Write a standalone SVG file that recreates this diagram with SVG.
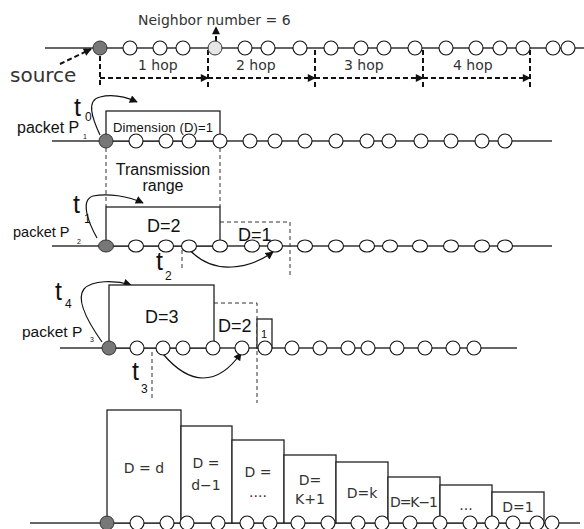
<svg xmlns="http://www.w3.org/2000/svg" width="584" height="529" viewBox="0 0 584 529">
<style>
.ln{stroke:#333;stroke-width:1.5;fill:none}
.nd{fill:#fff;stroke:#111;stroke-width:1.1}
.src{fill:#777;stroke:#333;stroke-width:1}
.lt{fill:#e6e6e6;stroke:#333;stroke-width:1}
.box{fill:#fff;stroke:#222;stroke-width:1.3}
.dsh{stroke:#333;stroke-width:1;stroke-dasharray:4 3;fill:none}
.dsh2{stroke:#111;stroke-width:2;stroke-dasharray:5 3;fill:none}
.cv{stroke:#111;stroke-width:1.2;fill:none}
text{font-family:"Liberation Sans",Arial,sans-serif;fill:#111}
.g{font-family:"DejaVu Sans","Liberation Sans",sans-serif;fill:#333}
</style>
<defs>
<marker id="ah" viewBox="0 0 10 10" refX="9" refY="5" markerWidth="9" markerHeight="8" markerUnits="userSpaceOnUse" orient="auto"><path d="M0,0 L10,5 L0,10 z" fill="#111"/></marker>
</defs>
<rect width="584" height="529" fill="#fff"/>

<g id="connectors">
<line class="ln" x1="45" y1="48" x2="584" y2="48"/>
<line class="ln" x1="52" y1="141" x2="552" y2="141"/>
<line class="ln" x1="52" y1="246" x2="552" y2="246"/>
<line class="ln" x1="60" y1="348" x2="517" y2="348"/>
<line class="ln" x1="30" y1="523" x2="580" y2="523"/>
<path class="dsh2" d="M60,64 L91,49" marker-end="url(#ah)"/>
<path class="dsh2" d="M216,41 L216,27" marker-end="url(#ah)"/>
<path class="dsh2" d="M100,56 V87 M208,50 V87 M315,50 V87 M423,50 V87 M530,50 V87"/>
<path class="dsh2" d="M100,78 H208" marker-end="url(#ah)"/>
<path class="dsh2" d="M208,78 H315" marker-end="url(#ah)"/>
<path class="dsh2" d="M315,78 H423" marker-end="url(#ah)"/>
<path class="dsh2" d="M423,78 H530" marker-end="url(#ah)"/>
<path class="dsh" d="M106,148 V207 M220,148 V207"/>
<path class="dsh" d="M220,222 H290 V278 M182,250 V270"/>
<path class="dsh" d="M214,303 H257 V403 M152,352 V400"/>
<path class="cv" d="M100,135 C92,118 86,100 100,97 C112,94 126,97 137,102" marker-end="url(#ah)"/>
<path class="cv" d="M97,238 C88,222 80,200 93,196 C108,193 128,196 143,203" marker-end="url(#ah)"/>
<path class="cv" d="M188,248 C200,262 215,268 232,267 C248,266 262,260 273,252" marker-end="url(#ah)"/>
<path class="cv" d="M102,342 C90,325 75,300 84,289 C92,280 115,280 131,285" marker-end="url(#ah)"/>
<path class="cv" d="M163,354 C175,368 188,378 203,378 C220,378 232,366 241,353" marker-end="url(#ah)"/>
</g>

<g id="boxes">
<g id="boxP1"><rect class="box" x="106" y="111" width="114" height="30"/></g>
<g id="boxP2"><rect class="box" x="106" y="207" width="114" height="39"/></g>
<g id="boxP3"><rect class="box" x="109" y="285" width="105" height="63"/>
<rect class="box" x="257" y="319" width="15" height="29"/></g>
<g id="boxD"><rect class="box" x="107" y="410" width="74" height="113"/></g>
<g id="boxD1"><rect class="box" x="181" y="426" width="51" height="97"/></g>
<g id="boxDd"><rect class="box" x="232" y="440" width="52" height="83"/></g>
<g id="boxK1"><rect class="box" x="284" y="455" width="52" height="68"/></g>
<g id="boxK"><rect class="box" x="336" y="462" width="52" height="61"/></g>
<g id="boxKm1"><rect class="box" x="388" y="477" width="52" height="46"/></g>
<g id="boxDots"><rect class="box" x="440" y="485" width="52" height="38"/></g>
<g id="boxOne"><rect class="box" x="492" y="492" width="52" height="31"/></g>
</g>

<g id="row0">
<g id="r0n0"><circle class="src" cx="100" cy="48" r="7"/></g>
<g id="r0n1"><circle class="nd" cx="130" cy="48" r="7"/></g>
<g id="r0n2"><circle class="nd" cx="160" cy="48" r="7"/></g>
<g id="r0n3"><circle class="nd" cx="183" cy="48" r="7"/></g>
<g id="r0n4"><circle class="lt" cx="215" cy="48" r="7"/></g>
<g id="r0n5"><circle class="nd" cx="245" cy="48" r="7"/></g>
<g id="r0n6"><circle class="nd" cx="268" cy="48" r="7"/></g>
<g id="r0n7"><circle class="nd" cx="300" cy="48" r="7"/></g>
<g id="r0n8"><circle class="nd" cx="331" cy="48" r="7"/></g>
<g id="r0n9"><circle class="nd" cx="361" cy="48" r="7"/></g>
<g id="r0n10"><circle class="nd" cx="384" cy="48" r="7"/></g>
<g id="r0n11"><circle class="nd" cx="415" cy="48" r="7"/></g>
<g id="r0n12"><circle class="nd" cx="446" cy="48" r="7"/></g>
<g id="r0n13"><circle class="nd" cx="476" cy="48" r="7"/></g>
<g id="r0n14"><circle class="nd" cx="500" cy="48" r="7"/></g>
<g id="r0n15"><circle class="nd" cx="523" cy="48" r="7"/></g>
<g id="r0n16"><circle class="nd" cx="553" cy="48" r="7"/></g>
<g id="r0n17"><circle class="nd" cx="568" cy="48" r="7"/></g>
</g>

<g id="row1">
<g id="r1n0"><circle class="src" cx="106" cy="141" r="7"/></g>
<g id="r1n1"><circle class="nd" cx="136" cy="141" r="7"/></g>
<g id="r1n2"><circle class="nd" cx="166" cy="141" r="7"/></g>
<g id="r1n3"><circle class="nd" cx="189" cy="141" r="7"/></g>
<g id="r1n4"><circle class="nd" cx="220" cy="141" r="7"/></g>
<g id="r1n5"><circle class="nd" cx="250" cy="141" r="7"/></g>
<g id="r1n6"><circle class="nd" cx="275" cy="141" r="7"/></g>
<g id="r1n7"><circle class="nd" cx="305" cy="141" r="7"/></g>
<g id="r1n8"><circle class="nd" cx="336" cy="141" r="7"/></g>
<g id="r1n9"><circle class="nd" cx="367" cy="141" r="7"/></g>
<g id="r1n10"><circle class="nd" cx="389" cy="141" r="7"/></g>
<g id="r1n11"><circle class="nd" cx="421" cy="141" r="7"/></g>
<g id="r1n12"><circle class="nd" cx="451" cy="141" r="7"/></g>
<g id="r1n13"><circle class="nd" cx="482" cy="141" r="7"/></g>
<g id="r1n14"><circle class="nd" cx="505" cy="141" r="7"/></g>
</g>

<g id="row2">
<g id="r2n0"><ellipse class="src" cx="106" cy="246" rx="7.5" ry="6"/></g>
<g id="r2n1"><ellipse class="nd" cx="136" cy="246" rx="7.5" ry="6"/></g>
<g id="r2n2"><ellipse class="nd" cx="166" cy="246" rx="7.5" ry="6"/></g>
<g id="r2n3"><ellipse class="nd" cx="189" cy="246" rx="7.5" ry="6"/></g>
<g id="r2n4"><ellipse class="nd" cx="220" cy="246" rx="7.5" ry="6"/></g>
<g id="r2n5"><ellipse class="nd" cx="252" cy="246" rx="7.5" ry="6"/></g>
<g id="r2n6"><ellipse class="nd" cx="275" cy="246" rx="7.5" ry="6"/></g>
<g id="r2n7"><ellipse class="nd" cx="305" cy="246" rx="7.5" ry="6"/></g>
<g id="r2n8"><ellipse class="nd" cx="336" cy="246" rx="7.5" ry="6"/></g>
<g id="r2n9"><ellipse class="nd" cx="367" cy="246" rx="7.5" ry="6"/></g>
<g id="r2n10"><ellipse class="nd" cx="390" cy="246" rx="7.5" ry="6"/></g>
<g id="r2n11"><ellipse class="nd" cx="420" cy="246" rx="7.5" ry="6"/></g>
<g id="r2n12"><ellipse class="nd" cx="451" cy="246" rx="7.5" ry="6"/></g>
<g id="r2n13"><ellipse class="nd" cx="482" cy="246" rx="7.5" ry="6"/></g>
<g id="r2n14"><ellipse class="nd" cx="505" cy="246" rx="7.5" ry="6"/></g>
</g>

<g id="row3">
<g id="r3n0"><circle class="src" cx="109" cy="348" r="7"/></g>
<g id="r3n1"><circle class="nd" cx="137" cy="348" r="7"/></g>
<g id="r3n2"><circle class="nd" cx="163" cy="348" r="7"/></g>
<g id="r3n3"><circle class="nd" cx="183" cy="348" r="7"/></g>
<g id="r3n4"><circle class="nd" cx="213" cy="348" r="7"/></g>
<g id="r3n5"><circle class="nd" cx="242" cy="348" r="7"/></g>
<g id="r3n6"><circle class="nd" cx="265" cy="348" r="7"/></g>
<g id="r3n7"><circle class="nd" cx="292" cy="348" r="7"/></g>
<g id="r3n8"><circle class="nd" cx="320" cy="348" r="7"/></g>
<g id="r3n9"><circle class="nd" cx="348" cy="348" r="7"/></g>
<g id="r3n10"><circle class="nd" cx="368" cy="348" r="7"/></g>
<g id="r3n11"><circle class="nd" cx="397" cy="348" r="7"/></g>
<g id="r3n12"><circle class="nd" cx="425" cy="348" r="7"/></g>
<g id="r3n13"><circle class="nd" cx="453" cy="348" r="7"/></g>
<g id="r3n14"><circle class="nd" cx="474" cy="348" r="7"/></g>
</g>

<g id="row4">
<g id="r4n0"><circle class="src" cx="107" cy="523" r="7"/></g>
<g id="r4n1"><circle class="nd" cx="137" cy="523" r="7"/></g>
<g id="r4n2"><circle class="nd" cx="167" cy="523" r="7"/></g>
<g id="r4n3"><circle class="nd" cx="187" cy="523" r="7"/></g>
<g id="r4n4"><circle class="nd" cx="218" cy="523" r="7"/></g>
<g id="r4n5"><circle class="nd" cx="247" cy="523" r="7"/></g>
<g id="r4n6"><circle class="nd" cx="270" cy="523" r="7"/></g>
<g id="r4n7"><circle class="nd" cx="298" cy="523" r="7"/></g>
<g id="r4n8"><circle class="nd" cx="328" cy="523" r="7"/></g>
<g id="r4n9"><circle class="nd" cx="358" cy="523" r="7"/></g>
<g id="r4n10"><circle class="nd" cx="382" cy="523" r="7"/></g>
<g id="r4n11"><circle class="nd" cx="410" cy="523" r="7"/></g>
<g id="r4n12"><circle class="nd" cx="440" cy="523" r="7"/></g>
<g id="r4n13"><circle class="nd" cx="470" cy="523" r="7"/></g>
<g id="r4n14"><circle class="nd" cx="492" cy="523" r="7"/></g>
<g id="r4n15"><circle class="nd" cx="513" cy="523" r="7"/></g>
<g id="r4n16"><circle class="nd" cx="537" cy="523" r="7"/></g>
<g id="r4n17"><circle class="nd" cx="552" cy="523" r="7"/></g>
</g>

<g id="labels">
<text class="g" x="138" y="25" font-size="14">Neighbor number = 6</text>
<text class="g" x="10" y="82" font-size="20">source</text>
<text class="g" x="138" y="70" font-size="14">1 hop</text>
<text class="g" x="236" y="70" font-size="14">2 hop</text>
<text class="g" x="344" y="70" font-size="14">3 hop</text>
<text class="g" x="453" y="70" font-size="14">4 hop</text>

<text x="74" y="116" font-size="25">t</text>
<text x="85" y="121" font-size="12">0</text>
<text x="17" y="133" font-size="16">packet P</text>
<text x="83" y="139" font-size="7">1</text>
<text x="113" y="132" font-size="13" textLength="100">Dimension (D)=1</text>
<text x="163" y="175" font-size="16" text-anchor="middle">Transmission</text>
<text x="163" y="191" font-size="16" text-anchor="middle">range</text>

<text x="73" y="213" font-size="25">t</text>
<text x="84" y="223" font-size="12">1</text>
<text x="13" y="237" font-size="14.5">packet P</text>
<text x="77" y="244" font-size="7">2</text>
<text x="147" y="232" font-size="18">D=2</text>
<text x="238" y="241" font-size="18">D=1</text>
<text x="156" y="270" font-size="25">t</text>
<text x="165" y="280" font-size="12">2</text>

<text x="55" y="300" font-size="25">t</text>
<text x="65" y="308" font-size="12">4</text>
<text x="22" y="337" font-size="15.5">packet P</text>
<text x="90" y="342" font-size="7">3</text>
<text x="145" y="323" font-size="18">D=3</text>
<text x="218" y="332" font-size="18">D=2</text>
<text x="261" y="338" font-size="11">1</text>
<text x="132" y="380" font-size="25">t</text>
<text x="141" y="393" font-size="12">3</text>

<text class="g" x="144" y="473" font-size="14" text-anchor="middle">D = d</text>
<text class="g" x="206" y="468" font-size="14" text-anchor="middle">D =</text>
<text class="g" x="206" y="490" font-size="14" text-anchor="middle">d−1</text>
<text class="g" x="258" y="477" font-size="14" text-anchor="middle">D =</text>
<text class="g" x="258" y="497" font-size="14" text-anchor="middle">....</text>
<text class="g" x="310" y="485" font-size="14" text-anchor="middle">D=</text>
<text class="g" x="310" y="504" font-size="14" text-anchor="middle">K+1</text>
<text class="g" x="362" y="498" font-size="14" text-anchor="middle">D=k</text>
<text class="g" x="414" y="507" font-size="14" text-anchor="middle" textLength="48">D=K−1</text>
<text class="g" x="466" y="510" font-size="14" text-anchor="middle">...</text>
<text class="g" x="518" y="512" font-size="14" text-anchor="middle">D=1</text>
</g>
</svg>
